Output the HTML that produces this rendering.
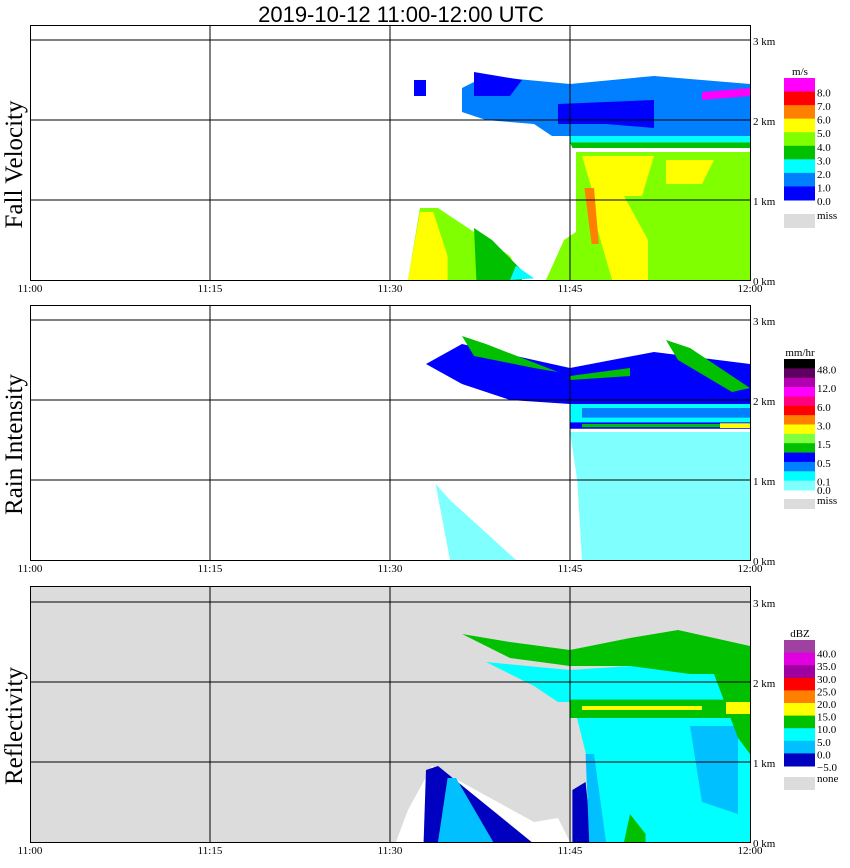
<!DOCTYPE html>
<html><head><meta charset="utf-8"><style>
body{margin:0;background:#fff;}
svg{display:block;font-family:"Liberation Serif",serif;}
</style></head><body>
<svg id="chart" width="850" height="868" viewBox="0 0 850 868" xmlns="http://www.w3.org/2000/svg">
<text x="401" y="22" text-anchor="middle" font-family="Liberation Sans, sans-serif" font-size="22">2019-10-12   11:00-12:00 UTC</text>
</svg>
<script>
// ---- data ----
const timeTicks = [0, 15, 30, 45, 60];
const timeLabels = ["11:00", "11:15", "11:30", "11:45", "12:00"];
const heightTicks = [0, 1, 2, 3];
const heightLabels = ["0 km", "1 km", "2 km", "3 km"];
const panelTitles = ["Fall Velocity", "Rain Intensity", "Reflectivity"];
const panelUnits = ["m/s", "mm/hr", "dBZ"];
const fvColors = ["#ff00ff","#ff0000","#ff8000","#ffff00","#80ff00","#00c000","#00ffff","#0080ff","#0000ff"];
const fvLabels = ["8.0","7.0","6.0","5.0","4.0","3.0","2.0","1.0","0.0"];
const riColors = ["#000000","#600060","#b000b0","#ff00ff","#ff0080","#ff0000","#ff8000","#ffff00","#80ff40","#00c000","#0000ff","#0080ff","#00ffff","#80ffff"];
const riLabels = ["48.0","12.0","6.0","3.0","1.5","0.5","0.1","0.0"];
const dbColors = ["#a040a0","#e000e0","#a000a0","#ff0000","#ff8000","#ffff00","#00c000","#00ffff","#00c0ff","#0000c0"];
const dbLabels = ["40.0","35.0","30.0","25.0","20.0","15.0","10.0","5.0","0.0","\u22125.0"];
// echo regions: [color, [[minute, km], ...]]
const fvEchoes = [
 ["#80ff00",[[45.5,1.6],[60,1.6],[60,0],[43,0],[44.5,0.5],[45.5,0.6]]],
 ["#ffff00",[[46,1.55],[52,1.55],[51,1.05],[47,1.05]]],
 ["#ffff00",[[53,1.5],[57,1.5],[56,1.2],[53,1.2]]],
 ["#ffff00",[[46.5,1.05],[49.5,1.05],[51.5,0.5],[51.5,0],[48.5,0]]],
 ["#ff8000",[[46.2,1.15],[47,1.15],[47.4,0.45],[46.8,0.45]]],
 ["#00ffff",[[45,1.8],[60,1.8],[60,1.72],[45,1.72]]],
 ["#00c000",[[45,1.72],[60,1.72],[60,1.65],[45.2,1.65]]],
 ["#0080ff",[[36,2.4],[38,2.55],[45,2.45],[52,2.55],[60,2.45],[60,1.8],[43.5,1.8],[42,1.95],[38,2.0],[36,2.1]]],
 ["#0000ff",[[44,2.2],[52,2.25],[52,1.9],[48,1.95],[44,1.95]]],
 ["#0000ff",[[37,2.6],[41,2.5],[40,2.3],[37,2.3]]],
 ["#0000ff",[[32,2.5],[33,2.5],[33,2.3],[32,2.3]]],
 ["#ff00ff",[[56,2.35],[60,2.4],[60,2.3],[56,2.25]]],
 ["#80ff00",[[31.5,0],[32.5,0.9],[34,0.9],[40,0.3],[41,0]]],
 ["#ffff00",[[31.5,0],[32.5,0.85],[33.6,0.85],[34.8,0.3],[34.8,0]]],
 ["#00c000",[[37,0.65],[38.5,0.5],[41,0.12],[41,0],[37.2,0]]],
 ["#00ffff",[[40.5,0.18],[42,0.02],[40,0]]]
];
const riEchoes = [
 ["#80ffff",[[45,1.6],[60,1.6],[60,0],[46,0],[45.6,1.0]]],
 ["#80ffff",[[33.8,0.95],[35,0.75],[40.5,0],[35,0]]],
 ["#00ffff",[[45,1.95],[60,1.95],[60,1.72],[45,1.72]]],
 ["#0080ff",[[46,1.9],[60,1.9],[60,1.78],[46,1.78]]],
 ["#0000ff",[[45,1.72],[60,1.72],[60,1.64],[45,1.64]]],
 ["#00c000",[[46,1.7],[60,1.7],[60,1.66],[46,1.66]]],
 ["#ffff00",[[57.5,1.71],[60,1.71],[60,1.65],[57.5,1.65]]],
 ["#0000ff",[[33,2.45],[36,2.7],[45,2.4],[52,2.6],[60,2.45],[60,1.95],[45,1.95],[40,2.0],[36,2.2]]],
 ["#00c000",[[36,2.8],[38,2.7],[44,2.35],[42,2.4],[37,2.55]]],
 ["#00c000",[[53,2.75],[55,2.65],[60,2.15],[58.5,2.1],[54,2.5]]],
 ["#00c000",[[45,2.3],[50,2.4],[50,2.3],[45,2.25]]]
];
const dbEchoes = [
 ["#ffffff",[[30.5,0],[31.5,0.4],[33.5,0.95],[42,0.25],[44,0.3],[45,0]]],
 ["#0000c0",[[32.8,0],[33,0.9],[34,0.95],[41.8,0]]],
 ["#00c0ff",[[34,0],[34.8,0.8],[35.5,0.8],[38.6,0]]],
 ["#00ffff",[[45.5,1.6],[60,1.6],[60,0],[47.5,0],[46.5,1.0]]],
 ["#0000c0",[[45.2,0],[45.2,0.65],[46.3,0.75],[46.8,0]]],
 ["#00c0ff",[[46.3,1.1],[47,1.1],[48,0],[46.6,0]]],
 ["#00c0ff",[[55,1.45],[59,1.45],[59,0.35],[56,0.5]]],
 ["#00c000",[[49.5,0],[50,0.35],[51.3,0.1],[51.3,0]]],
 ["#00ffff",[[38,2.25],[45,2.15],[60,2.3],[60,1.75],[44,1.75],[42,1.95]]],
 ["#00c000",[[45,1.78],[60,1.78],[60,1.55],[45,1.55]]],
 ["#00c000",[[57,2.1],[60,2.1],[60,1.1],[59,1.3]]],
 ["#ffff00",[[46,1.7],[56,1.7],[56,1.65],[46,1.65]]],
 ["#ffff00",[[58,1.75],[60,1.75],[60,1.6],[58,1.6]]],
 ["#00c000",[[36,2.6],[40,2.5],[45,2.4],[50,2.55],[54,2.65],[60,2.45],[60,2.1],[55,2.1],[50,2.2],[45,2.2],[40,2.3]]]
];
// ---- drawing ----
const NS="http://www.w3.org/2000/svg";
const svg=document.getElementById('chart');
const X0=30, X1=750;
const panels=[{top:25,base:280,bg:"#ffffff",echoes:fvEchoes,colors:fvColors,labels:fvLabels,cbTop:78,cbBot:200,miss:[214,228],missLabel:"miss"},
 {top:305,base:560,bg:"#ffffff",echoes:riEchoes,colors:riColors,labels:riLabels,cbTop:359,cbBot:490,miss:[499,509],missLabel:"miss"},
 {top:586,base:842,bg:"#dcdcdc",echoes:dbEchoes,colors:dbColors,labels:dbLabels,cbTop:640,cbBot:766,miss:[777,790],missLabel:"none"}];
function el(tag,attrs,parent){const e=document.createElementNS(NS,tag);for(const k in attrs)e.setAttribute(k,attrs[k]);(parent||svg).appendChild(e);return e;}
const xs=t=>X0+t*(X1-X0)/60;
panels.forEach((p,i)=>{
 const ys=h=>p.base-h*80;
 const g=el('g',{});
 
 
 const bg=el('rect',{x:X0,y:p.top,width:X1-X0,height:p.base-p.top,fill:p.bg},g);
 
 
 p.echoes.forEach(([c,pts])=>{
  const poly=el('polygon',{points:pts.map(q=>xs(q[0]).toFixed(1)+','+ys(q[1]).toFixed(1)).join(' '),fill:c},g);
  
  
 });
 heightTicks.forEach((h,j)=>{
  if(h>0){const l=el('line',{x1:X0,x2:X1,y1:ys(h),y2:ys(h),stroke:"#000","stroke-width":1},g);
  
  }
  const t=el('text',{x:X1+3,y:ys(h)+5,"font-size":11},g);t.textContent=heightLabels[j];
  
  
 });
 timeTicks.forEach((tm,j)=>{
  if(tm>0&&tm<60){const l=el('line',{x1:xs(tm),x2:xs(tm),y1:p.top,y2:p.base,stroke:"#000","stroke-width":1},g);
  
  }
  const t=el('text',{x:xs(tm),y:p.base+12,"font-size":11,"text-anchor":"middle"},g);t.textContent=timeLabels[j];
  
  
 });
 const fr=el('rect',{x:X0+0.5,y:p.top+0.5,width:X1-X0,height:p.base-p.top,fill:"none",stroke:"#000","stroke-width":1},g);
 
 
 const yt=el('text',{x:0,y:0,"font-size":25,"text-anchor":"middle",transform:`translate(22,${(p.top+p.base)/2+12}) rotate(-90)`},g);
 yt.textContent=panelTitles[i];
 
 
 const cb=el('g',{},g);
 
 
 const n=p.colors.length, bh=(p.cbBot-p.cbTop)/n;
 const un=el('text',{x:800,y:p.cbTop-3,"font-size":11,"text-anchor":"middle"},cb);un.textContent=panelUnits[i];
 
 
 p.colors.forEach((c,k)=>{
  const r=el('rect',{x:784,y:p.cbTop+k*bh,width:31,height:bh+0.5,fill:c},cb);
  
  
 });
 p.labels.forEach((lb,k)=>{
  let yy;
  if(i===1){yy=p.cbTop+bh*(k*2+1)+5; if(k===p.labels.length-1)yy=p.cbBot+4;}
  else yy=p.cbTop+bh*(k+1)+5;
  const t=el('text',{x:817,y:yy,"font-size":11},cb);t.textContent=lb;
  
  
 });
 const ms=el('rect',{x:784,y:p.miss[0],width:31,height:p.miss[1]-p.miss[0],fill:"#dcdcdc"},cb);
 
 
 const mt=el('text',{x:817,y:p.miss[0]+5,"font-size":11},cb);mt.textContent=p.missLabel;
 
 
});
</script>
</body></html>
